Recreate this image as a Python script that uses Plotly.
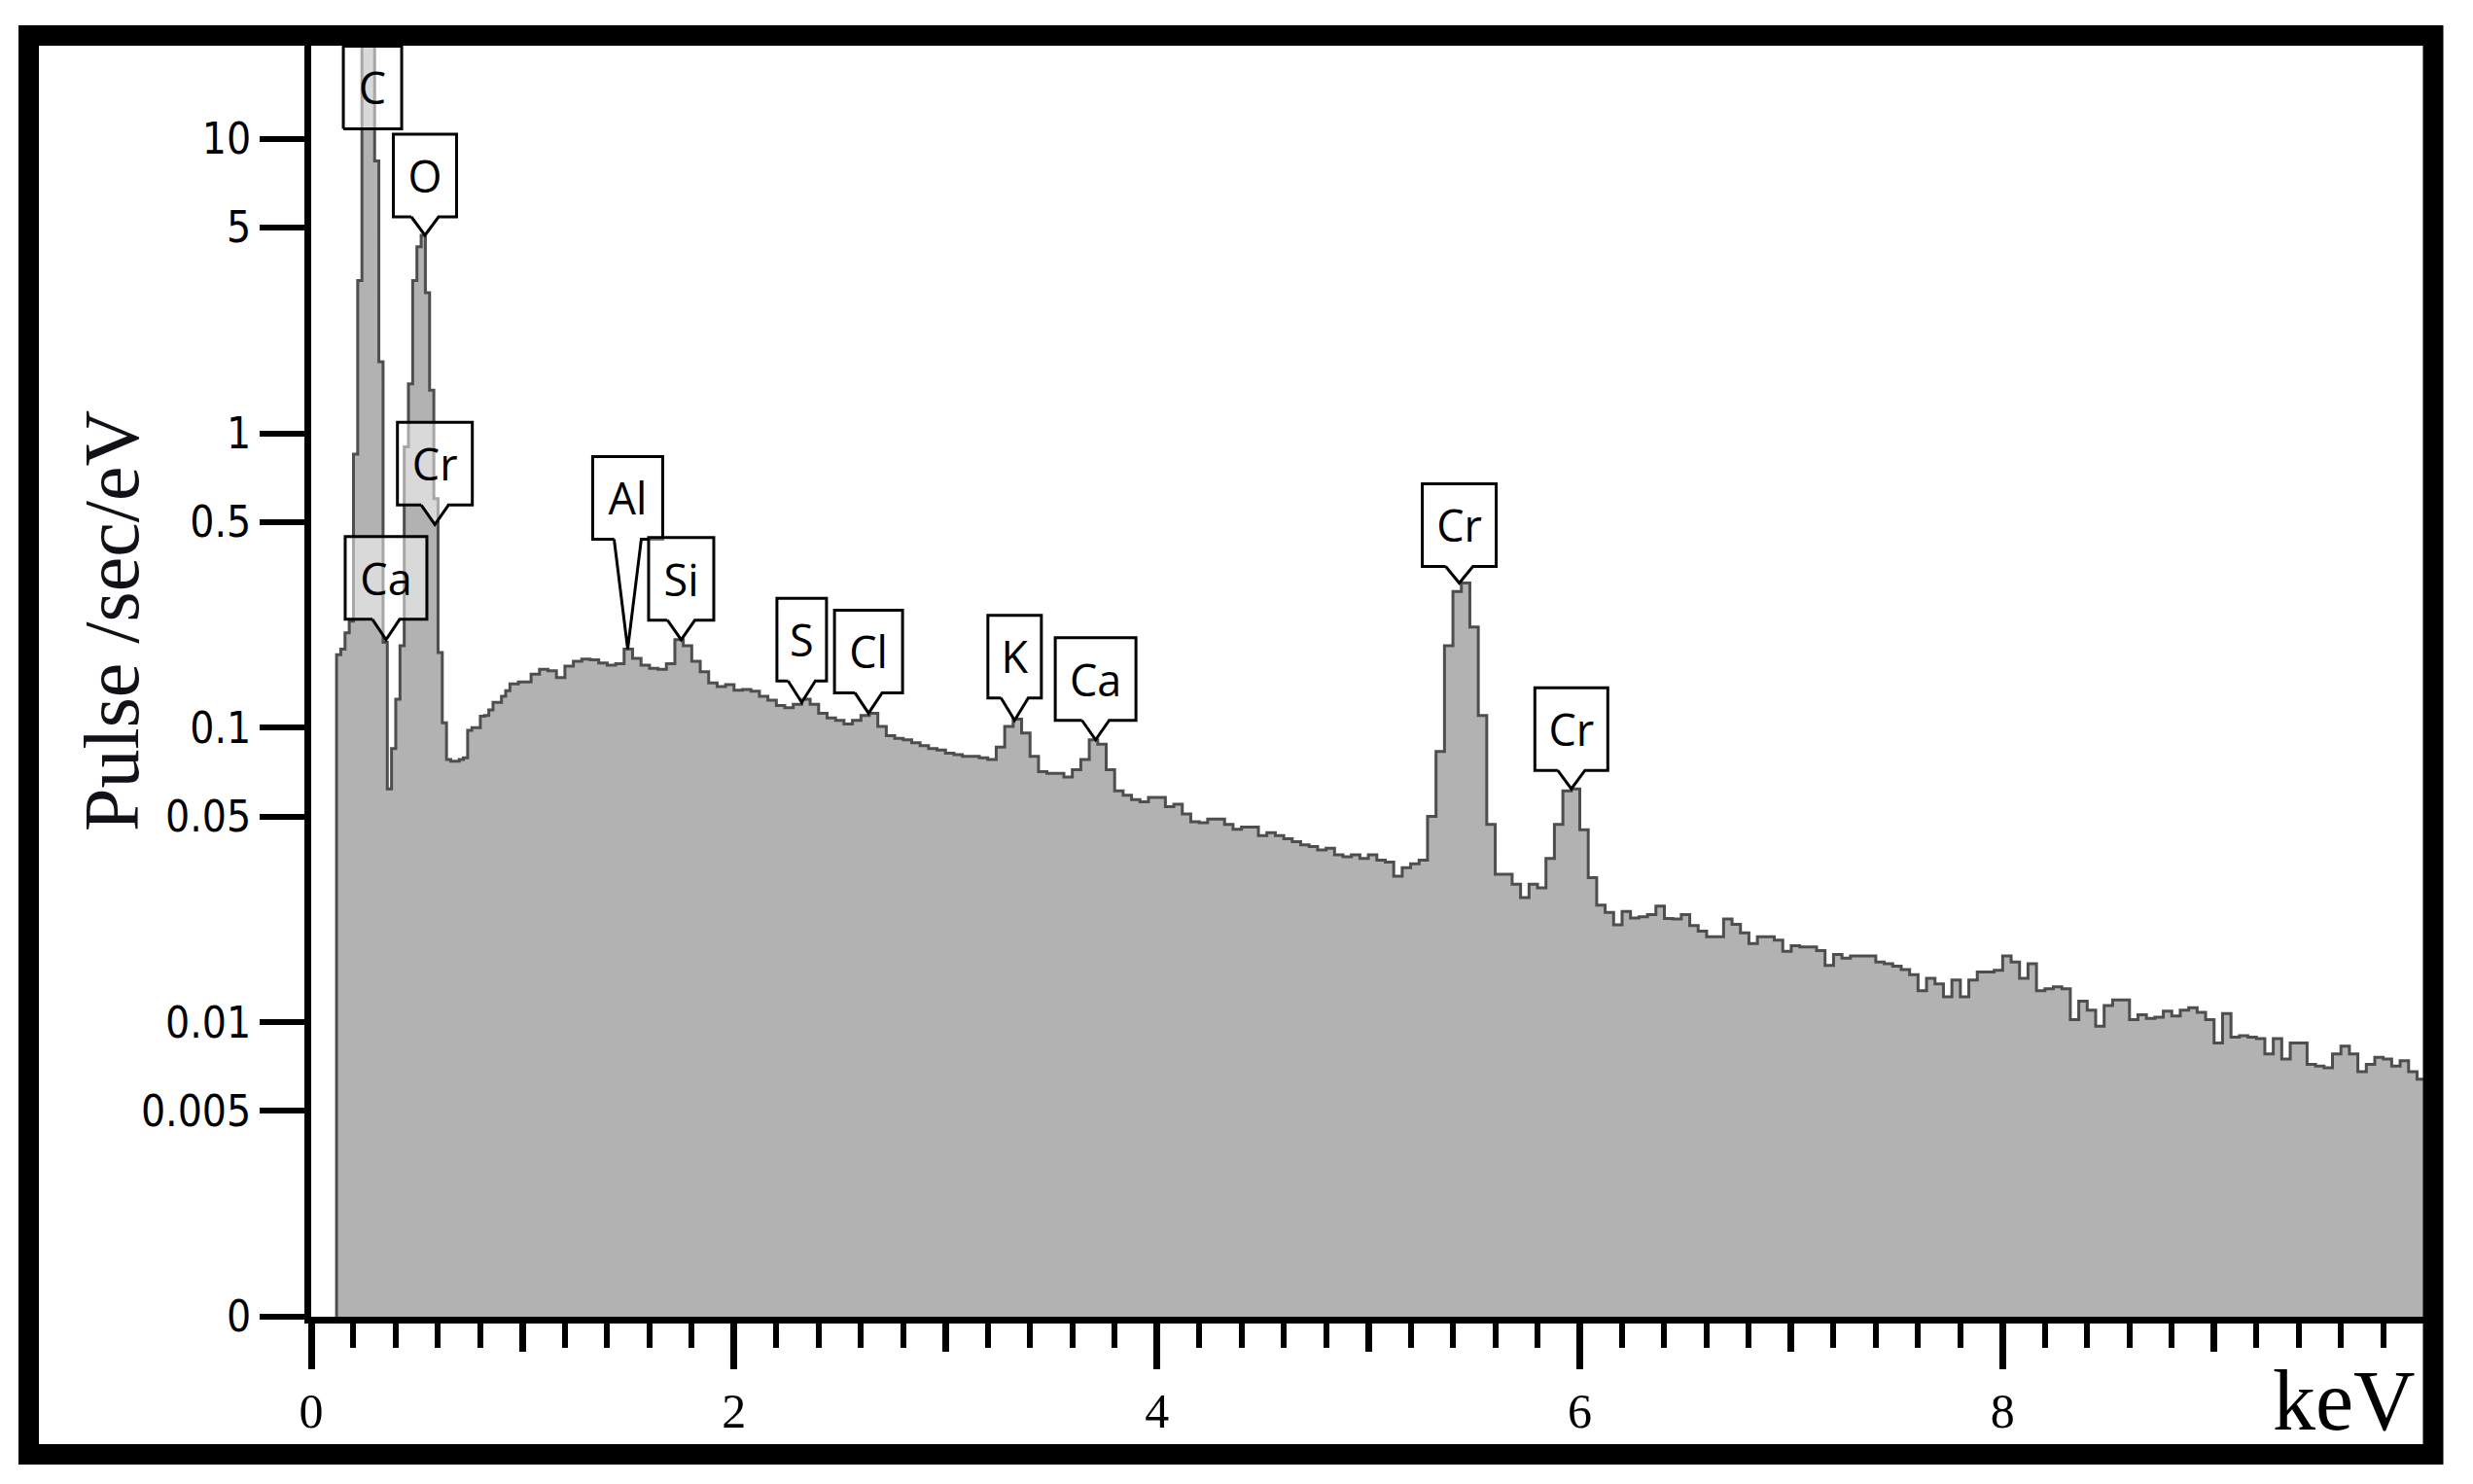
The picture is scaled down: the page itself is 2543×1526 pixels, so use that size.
"""
EDS spectrum (log scale) with element callouts, rebuilt in Plotly.
"""

import plotly.graph_objects as go

# ── Page / plot box (pixels) ──────────────────────────────────────────────────
W, H = 2543, 1526
LEFT, RIGHT, TOP, BOTTOM = 320, 2492, 47, 1354

X_RANGE = [0, 9.99]        # keV
Y_RANGE = [-3, 1.316]      # log10(pulse/sec/eV)

# ── Data ──────────────────────────────────────────────────────────────────────
# spectrum below 1 keV, 0.02 keV channels starting at 0.12 keV
LOW_START, LOW_STEP = 0.12, 0.02
LOW_COUNTS = [
    0.177, 0.185, 0.21, 0.23,
    0.85, 3.3, 30, 30, 30,
    8.4, 1.75, 0.195, 0.062, 0.085,
    0.125, 0.19, 0.9, 1.47, 3.3,
    4.3, 4.7, 3.0, 1.4, 0.6,
    0.18, 0.104, 0.078, 0.077, 0.077,
    0.078, 0.079, 0.098, 0.100, 0.100,
    0.1095, 0.110, 0.115, 0.122, 0.122,
    0.128, 0.1336, 0.141, 0.141, 0.143,
]

# spectrum from 1 keV to 10 keV, 0.04 keV channels (one row per keV)
HIGH_START, HIGH_STEP = 1.00, 0.04
HIGH_COUNTS = [
    # 1.00 - 1.96
    0.143, 0.152, 0.158, 0.156, 0.148, 0.162, 0.168, 0.171, 0.170, 0.166,
    0.163, 0.165, 0.185, 0.172, 0.163, 0.159, 0.158, 0.165, 0.199, 0.190,
    0.168, 0.155, 0.142, 0.138, 0.140,
    # 2.00 - 2.96
    0.134, 0.135, 0.133, 0.128, 0.124, 0.119, 0.117, 0.120, 0.125, 0.120,
    0.112, 0.108, 0.106, 0.103, 0.106, 0.110, 0.112, 0.101, 0.094, 0.092,
    0.091, 0.089, 0.087, 0.085, 0.084,
    # 3.00 - 3.96
    0.082, 0.081, 0.080, 0.080, 0.079, 0.078, 0.086, 0.101, 0.107, 0.096,
    0.080, 0.071, 0.070, 0.070, 0.068, 0.072, 0.078, 0.091, 0.088, 0.072,
    0.061, 0.059, 0.057, 0.056, 0.058,
    # 4.00 - 4.96
    0.058, 0.054, 0.055, 0.051, 0.048, 0.0476, 0.049, 0.049, 0.047, 0.0452,
    0.046, 0.046, 0.043, 0.044, 0.043, 0.042, 0.041, 0.040, 0.0395, 0.0385,
    0.039, 0.037, 0.0365, 0.037, 0.036,
    # 5.00 - 5.96
    0.037, 0.0355, 0.035, 0.0313, 0.0335, 0.0345, 0.0355, 0.050, 0.083, 0.19,
    0.29, 0.31, 0.22, 0.11, 0.047, 0.0318, 0.0318, 0.0294, 0.0265, 0.0294,
    0.0286, 0.036, 0.047, 0.061, 0.062,
    # 6.00 - 6.96
    0.045, 0.031, 0.025, 0.0236, 0.0214, 0.0238, 0.0226, 0.0228, 0.0232, 0.0248,
    0.0225, 0.0224, 0.0232, 0.0213, 0.0204, 0.0195, 0.0195, 0.0224, 0.0215, 0.0201,
    0.0185, 0.0195, 0.0195, 0.019, 0.0174,
    # 7.00 - 7.96
    0.0182, 0.0180, 0.018, 0.0175, 0.0156, 0.0170, 0.0165, 0.0168, 0.0168, 0.0168,
    0.0160, 0.0158, 0.0155, 0.0151, 0.0145, 0.0128, 0.0141, 0.0135, 0.0122, 0.0139,
    0.0122, 0.0139, 0.0148, 0.0148, 0.0150,
    # 8.00 - 8.96
    0.0168, 0.0160, 0.0141, 0.0158, 0.0128, 0.0130, 0.0132, 0.0130, 0.0102, 0.0118,
    0.0110, 0.0097, 0.0114, 0.0119, 0.0119, 0.0102, 0.0106, 0.0103, 0.0104, 0.0109,
    0.0105, 0.0110, 0.0112, 0.0108, 0.0102,
    # 9.00 - 9.96
    0.0085, 0.0107, 0.0089, 0.0090, 0.0089, 0.0088, 0.0078, 0.0088, 0.0075, 0.0085,
    0.0085, 0.0072, 0.0071, 0.0070, 0.0078, 0.0083, 0.0078, 0.0068, 0.0072, 0.0076,
    0.0075, 0.0071, 0.0074, 0.0068, 0.0064,
]
SPECTRUM_END = 10.0
BASELINE = 0.001   # shown as "0" on the log axis

# element callouts: label, energy of the peak and the height it points at
PEAK_LABELS = ["C", "O", "Cr", "Ca", "Al", "Si", "S", "Cl", "K", "Ca", "Cr", "Cr"]
PEAK_KEV = [0.29, 0.538, 0.585, 0.354, 1.497, 1.75, 2.32, 2.636, 3.327, 3.71, 5.43, 5.96]
PEAK_VALUES = [10.8, 4.7, 0.49, 0.199, 0.185, 0.199, 0.122, 0.112, 0.106, 0.091, 0.31, 0.062]
# callout styling (pixels)
BOX_W = [60, 65, 77, 84, 72, 67, 51, 70, 55, 83, 76, 75]
POINTER_LEN = [0, 19, 20, 21, 113, 20, 22, 21, 23, 20, 17, 19]
BOX_H = 85
NOTCH_HALF = 14
TEXT_DROP = 6

Y_TICKS = [10, 5, 1, 0.5, 0.1, 0.05, 0.01, 0.005, 0.001]
Y_TICK_TEXT = ["10", "5", "1", "0.5", "0.1", "0.05", "0.01", "0.005", "0"]
X_TICKS = [0, 2, 4, 6, 8]
X_MID_TICKS = [1, 3, 5, 7, 9]

FILL = "#b2b2b2"
OUTLINE = "#4e4e4e"

# ── Helpers ───────────────────────────────────────────────────────────────────
PW, PH = RIGHT - LEFT, BOTTOM - TOP
PX_PER_KEV = PW / (X_RANGE[1] - X_RANGE[0])
PX_PER_DEC = PH / (Y_RANGE[1] - Y_RANGE[0])


def paper_x(px):
    return (px - LEFT) / PW


def paper_y(py):
    return (BOTTOM - py) / PH


def shift(e, v, dx, dy):
    """Move a data point by (dx, dy) screen pixels (dy upwards)."""
    return e + dx / PX_PER_KEV, v * 10 ** (dy / PX_PER_DEC)


# ── Spectrum as a step outline ────────────────────────────────────────────────
edges = [LOW_START + i * LOW_STEP for i in range(len(LOW_COUNTS))]
edges += [HIGH_START + i * HIGH_STEP for i in range(len(HIGH_COUNTS))]
counts = LOW_COUNTS + HIGH_COUNTS

xs = [edges[0]] + edges + [SPECTRUM_END]
ys = [BASELINE] + counts + [counts[-1]]

fig = go.Figure()
fig.add_trace(go.Scatter(
    x=[edges[0], SPECTRUM_END], y=[BASELINE, BASELINE],
    mode="lines", line=dict(width=0), hoverinfo="skip", showlegend=False,
))
fig.add_trace(go.Scatter(
    x=xs, y=ys, mode="lines", line_shape="hv",
    line=dict(color=OUTLINE, width=3),
    fill="tonexty", fillcolor=FILL, showlegend=False,
))

# ── Callouts ──────────────────────────────────────────────────────────────────
for label, e, v, w, d in zip(PEAK_LABELS, PEAK_KEV, PEAK_VALUES, BOX_W, POINTER_LEN):
    if d > 0:
        outline = [(-NOTCH_HALF, d), (-w / 2, d), (-w / 2, d + BOX_H), (w / 2, d + BOX_H),
                   (w / 2, d), (NOTCH_HALF, d), (0, 0), (-NOTCH_HALF, d)]
    else:
        outline = [(-w / 2, 0), (-w / 2, BOX_H), (w / 2, BOX_H), (w / 2, 0), (-w / 2, 0)]
    pts = [shift(e, v, dx, dy) for dx, dy in outline]
    fig.add_trace(go.Scatter(
        x=[p[0] for p in pts], y=[p[1] for p in pts],
        mode="lines", fill="toself", fillcolor="rgba(255,255,255,0.5)",
        line=dict(color="black", width=3), hoverinfo="skip", showlegend=False,
    ))
    tx, ty = shift(e, v, 0, d + BOX_H / 2 - TEXT_DROP)
    fig.add_trace(go.Scatter(
        x=[tx], y=[ty], mode="text", text=[label], textposition="middle center",
        textfont=dict(family="Open Sans", size=45, color="black"),
        hoverinfo="skip", showlegend=False,
    ))

# invisible trace so the odd-keV tick axis is drawn
fig.add_trace(go.Scatter(x=[0], y=[BASELINE], xaxis="x2", mode="markers",
                         marker=dict(opacity=0), hoverinfo="skip", showlegend=False))

# ── Layout ────────────────────────────────────────────────────────────────────
fig.update_layout(
    width=W, height=H, autosize=False,
    margin=dict(l=LEFT, r=W - RIGHT, t=TOP, b=H - BOTTOM, pad=0),
    paper_bgcolor="white", plot_bgcolor="white",
    xaxis=dict(
        range=X_RANGE, showgrid=False, zeroline=False,
        showline=True, linecolor="black", linewidth=7,
        tickmode="array", tickvals=X_TICKS, ticktext=[str(t) for t in X_TICKS],
        ticks="outside", ticklen=47, tickwidth=7, tickcolor="black",
        tickfont=dict(family="Liberation Serif", size=50, color="black"),
        minor=dict(tick0=0, dtick=0.2, ticks="outside", ticklen=25,
                   tickwidth=6, tickcolor="black", showgrid=False),
    ),
    xaxis2=dict(
        range=X_RANGE, overlaying="x", anchor="y", side="bottom",
        showgrid=False, zeroline=False, showline=False,
        tickmode="array", tickvals=X_MID_TICKS, showticklabels=False,
        ticks="outside", ticklen=35, tickwidth=7, tickcolor="black",
    ),
    yaxis=dict(
        type="log", range=Y_RANGE, showgrid=False, zeroline=False,
        showline=True, linecolor="black", linewidth=7,
        tickmode="array", tickvals=Y_TICKS, ticktext=Y_TICK_TEXT,
        ticks="outside", ticklen=46, tickwidth=6, tickcolor="black",
        tickfont=dict(family="DejaVu Sans Condensed, DejaVu Sans", size=44, color="black"),
        ticklabelstandoff=0,
    ),
    annotations=[
        dict(text="Pulse /sec/eV", textangle=-90, showarrow=False,
             xref="paper", yref="paper", x=paper_x(115), y=paper_y(639),
             xanchor="center", yanchor="middle",
             font=dict(family="Liberation Serif", size=80, color="#111118")),
        dict(text="keV", showarrow=False,
             xref="paper", yref="paper", x=paper_x(2410), y=paper_y(1440),
             xanchor="center", yanchor="middle",
             font=dict(family="Liberation Serif", size=88, color="black")),
    ],
    shapes=[
        dict(type="rect", xref="paper", yref="paper",
             x0=paper_x(29.5), x1=paper_x(2502), y0=paper_y(1495.5), y1=paper_y(36.5),
             line=dict(color="black", width=21), fillcolor="rgba(0,0,0,0)", layer="above"),
    ],
)

fig.write_html("out.html", config={"displayModeBar": False},
               post_script="document.body.style.margin='0';")
